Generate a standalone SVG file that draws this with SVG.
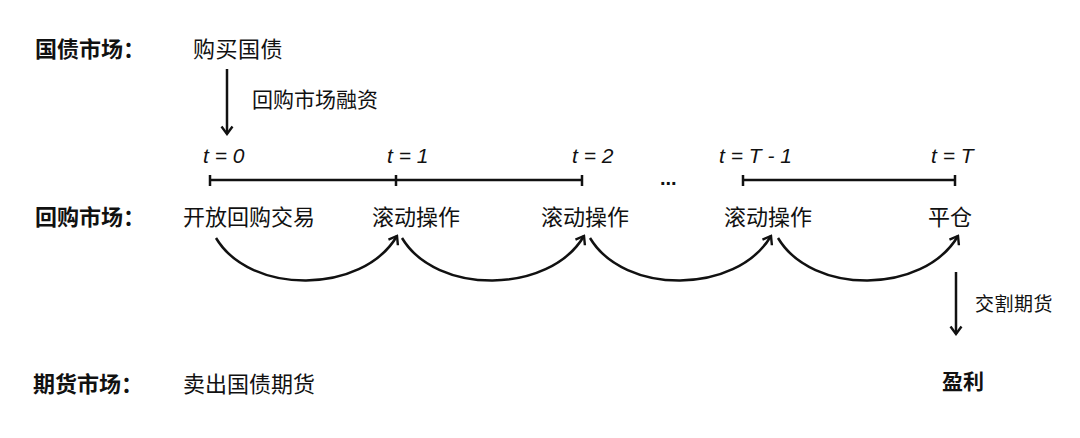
<svg xmlns="http://www.w3.org/2000/svg" width="1080" height="438" viewBox="0 0 1080 438">
<style>
.cjk{font-family:"Noto Sans CJK SC","Noto Sans",sans-serif;font-size:22px;fill:#111}
.b{font-weight:bold}
.t{font-family:"Liberation Sans",Arial,sans-serif;font-style:italic;font-size:21px;fill:#111}
.ln{stroke:#111;stroke-width:2.5;fill:none}
.arc{stroke:#111;stroke-width:2.5;fill:none;marker-end:url(#ah)}
</style>
<defs>
<marker id="ah" viewBox="-9 -7 11 14" refX="0" refY="0" markerWidth="11" markerHeight="14" markerUnits="userSpaceOnUse" orient="auto">
<path d="M-7.5,-5.5 L0,0 L-7.5,5.5" fill="none" stroke="#111" stroke-width="2.4"/>
</marker>
</defs>
<rect width="1080" height="438" fill="#fff"/>

<g id="labels">
<text class="cjk b" x="35" y="57">国债市场：</text>
<text class="cjk b" x="35" y="225">回购市场：</text>
<text class="cjk b" x="33" y="392">期货市场：</text>
</g>

<g id="buy-bond"><text class="cjk" x="193" y="57" style="letter-spacing:0.5px">购买国债</text></g>
<g id="repo-finance-label"><text class="cjk" x="252" y="107" style="font-size:21px">回购市场融资</text></g>

<g id="timeline">
<text class="t" x="203" y="163">t = 0</text>
<text class="t" x="387" y="163">t = 1</text>
<text class="t" x="572" y="163">t = 2</text>
<text class="t" x="719" y="163">t = T - 1</text>
<text class="t" x="931" y="163">t = T</text>
<path class="ln" d="M210,180 H582 M210,175 V186 M396,175 V186 M582,175 V186"/>
<text x="660" y="185" style="font-family:'Liberation Sans',Arial,sans-serif;font-weight:bold;font-size:20px;fill:#111">...</text>
<path class="ln" d="M743,180 H955 M743,175 V186 M955,175 V186"/>
</g>

<g id="open-repo"><text class="cjk" x="183" y="225">开放回购交易</text></g>
<g id="roll-1"><text class="cjk" x="372" y="225">滚动操作</text></g>
<g id="roll-2"><text class="cjk" x="541" y="225">滚动操作</text></g>
<g id="roll-3"><text class="cjk" x="724" y="225">滚动操作</text></g>
<g id="close"><text class="cjk" x="928" y="225">平仓</text></g>

<g id="sell-futures"><text class="cjk" x="183" y="392">卖出国债期货</text></g>
<g id="profit"><text class="cjk b" x="942" y="389" style="font-size:21px">盈利</text></g>
<g id="deliver-label"><text class="cjk" x="975" y="311" style="font-size:19px;letter-spacing:0.5px">交割期货</text></g>

<g id="connectors">
<path class="arc" d="M227,69 V134"/>
<path class="arc" d="M216,238 C250,295 362,295 397,236"/>
<path class="arc" d="M402,238 C436,295 549,295 584,236"/>
<path class="arc" d="M590,238 C624,295 736,295 771,236"/>
<path class="arc" d="M778,238 C812,295 923,295 958,236"/>
<path class="arc" d="M956,272 V334"/>
</g>
</svg>
